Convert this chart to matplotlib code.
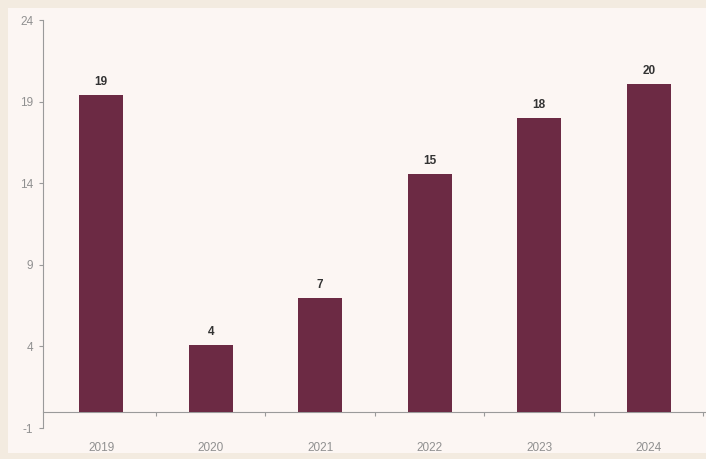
import matplotlib
matplotlib.use("Agg")
import matplotlib.pyplot as plt
from matplotlib.patches import Rectangle
import numpy as np

years = ["2019", "2020", "2021", "2022", "2023", "2024"]
values = [19.4, 4.1, 7.0, 14.6, 18.0, 20.1]
yticks = [-1, 4, 9, 14, 19, 24]

plt.rcParams['font.family'] = ['Liberation Sans', 'DejaVu Sans']

fig = plt.figure(figsize=(7.06, 4.59), dpi=100)
fig.patch.set_facecolor('#f3ebe0')
fig.patches.append(Rectangle((0.012, 0.012), 0.988, 0.971, transform=fig.transFigure,
                             facecolor='#fcf6f3', edgecolor='none', zorder=-10))

ax = fig.add_axes([0.061, 0.0675, 0.937, 0.8885])
ax.set_facecolor('none')

x = np.arange(len(years))
bar_color = '#6c2a44'
ax.bar(x, values, width=0.4, color=bar_color, zorder=3)

for xi, v in zip(x, values):
    ax.annotate(f"{round(v):d}", (xi, v), xytext=(0, 5), textcoords='offset points',
                ha='center', va='bottom', fontsize=8.5, fontweight='bold', color='#333333')

ax.set_xlim(-0.53, 5.51)
ax.set_ylim(-1, 24)
ax.set_yticks(yticks)
ax.set_yticklabels([str(t) for t in yticks])

ax.set_xticks(x)
ax.set_xticklabels(years)
ax.set_xticks(x + 0.5, minor=True)

for s in ['top', 'right']:
    ax.spines[s].set_visible(False)
ax.spines['bottom'].set_position(('data', 0))
ax.spines['bottom'].set_color('#9a9a9a')
ax.spines['bottom'].set_linewidth(0.8)
ax.spines['left'].set_color('#9a9a9a')
ax.spines['left'].set_linewidth(0.8)

ax.tick_params(axis='x', which='major', length=0, pad=22, labelsize=8.5, labelcolor='#909090')
ax.tick_params(axis='x', which='minor', length=3, color='#9a9a9a', width=0.8)
ax.tick_params(axis='y', length=3, color='#9a9a9a', width=0.8, labelsize=8.5,
               labelcolor='#909090', pad=4)

fig.savefig('out.png', dpi=100, facecolor=fig.get_facecolor())
